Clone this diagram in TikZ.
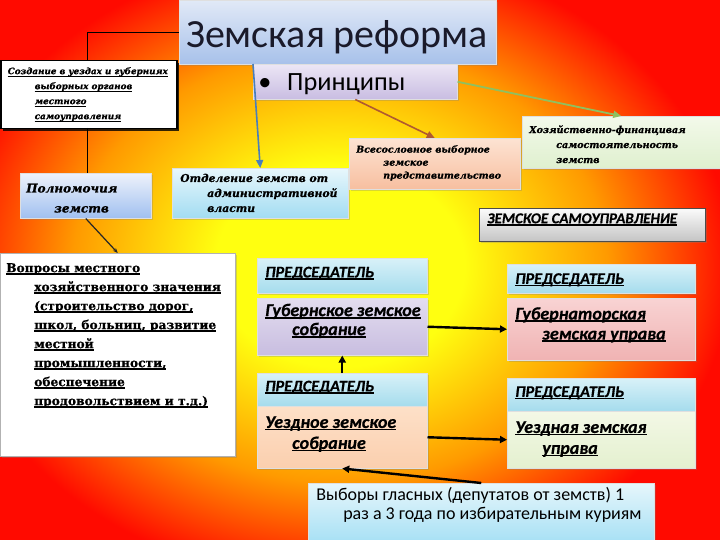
\documentclass[tikz,border=0pt]{standalone}
\usepackage{fontspec}
\setmainfont{Liberation Serif}
\newfontfamily\dvs{DejaVu Serif}
\newfontfamily\dvsbi[FakeBold=1]{DejaVu Serif Bold Italic}
\newfontfamily\dvsb[FakeBold=0.6]{DejaVu Serif Bold}
\newfontfamily\clb{Carlito}
\newfontfamily\clbbi[FakeBold=0.6]{Carlito Bold Italic}
\usetikzlibrary{arrows.meta,shadows}
\definecolor{yellow}{HTML}{FFFF10}
\definecolor{orange}{HTML}{FF9A00}
\definecolor{red}{HTML}{FF0A00}
\definecolor{titT}{HTML}{E1E9F7}\definecolor{titB}{HTML}{A7C1EA}
\definecolor{priT}{HTML}{ECE6F5}\definecolor{priB}{HTML}{C9BDE2}
\definecolor{polT}{HTML}{EEF2FB}\definecolor{polB}{HTML}{A0C0F0}
\definecolor{otdT}{HTML}{E8F7FC}\definecolor{otdB}{HTML}{A2DCF2}
\definecolor{vseT}{HTML}{FDE3D3}\definecolor{vseB}{HTML}{F7BFA0}
\definecolor{hozT}{HTML}{F3F9EA}\definecolor{hozB}{HTML}{DFF0CF}
\definecolor{zsuT}{HTML}{FBFBFB}\definecolor{zsuB}{HTML}{C4C4C4}
\definecolor{preT}{HTML}{D8F1F8}\definecolor{preB}{HTML}{A5DCED}
\definecolor{gubT}{HTML}{E3DDEF}\definecolor{gubB}{HTML}{C8BDE0}
\definecolor{uezT}{HTML}{FDE0C8}\definecolor{uezB}{HTML}{FBCFAE}
\definecolor{guuT}{HTML}{F8D3D3}\definecolor{guuB}{HTML}{F0B3B3}
\definecolor{uzuT}{HTML}{F3F8E6}\definecolor{uzuB}{HTML}{E4F0CF}
\definecolor{vybT}{HTML}{E6F6FB}\definecolor{vybB}{HTML}{A9E1F5}
\definecolor{blueC}{HTML}{4A7EBB}
\definecolor{brownC}{HTML}{B05A30}
\definecolor{greenC}{HTML}{8FC060}
\definecolor{titleTxt}{HTML}{1A1A2A}
\pgfdeclareradialshading{bgrad}{\pgfpoint{0bp}{0bp}}{color(0bp)=(yellow); color(7bp)=(yellow); color(15bp)=(orange); color(22bp)=(red); color(25bp)=(red); color(50bp)=(red)}
\newcommand\bxt[4]{\begin{minipage}[c][#2][t]{#1}\setlength{\lineskiplimit}{-50pt}\vspace*{#3}#4\end{minipage}}
\newcommand\ulx[2][1pt]{\setbox0\hbox{#2}\rlap{\rule[-2.4pt]{\wd0}{#1}}\box0}
\newcommand\sfi[2]{\clbbi\fontsize{#1}{#2}\selectfont}
\newcommand\sri[2]{\dvsbi\fontsize{#1}{#2}\selectfont}
\newcommand\srb[2]{\dvsb\fontsize{#1}{#2}\selectfont}
\begin{document}
\begin{tikzpicture}[x=1pt,y=-1pt,
  box/.style={draw=white!75!gray, line width=0.5pt, inner sep=0pt, anchor=north west,
    drop shadow={shadow xshift=1.5pt, shadow yshift=-1.5pt, opacity=0.3}},
  conn/.style={line width=0.8pt, black},
  tip/.style={-{Triangle[length=7pt,width=7pt]}},
  heavy/.style={line width=2.4pt, black, tip}]
\useasboundingbox (0,0) rectangle (720,540);
\begin{scope}
\clip (0,0) rectangle (720,540);
\fill[red] (0,0) rectangle (720,540);
\shade[shading=bgrad] (340,266) ellipse [x radius=445, y radius=360];
\end{scope}

% ---------- top part
\node[box, top color=titT, bottom color=titB] (title) at (179,0)
  {\bxt{317pt}{64pt}{20pt}{\clb\fontsize{40}{44}\selectfont\color{titleTxt}\hspace*{7pt}Земская реформа}};
\node[box, top color=priT, bottom color=priB] (princ) at (253,64)
  {\bxt{204pt}{35pt}{9.5pt}{\clb\fontsize{26.3}{28}\selectfont\hspace*{5pt}\makebox[29pt][l]{•}Принципы}};
\node[box, fill=white, draw=black, line width=1.5pt,
  drop shadow={shadow xshift=2pt, shadow yshift=-2pt, opacity=0.8, fill=black}] (sozd) at (0,60)
  {\bxt{176pt}{68pt}{6.5pt}{\sri{8.8}{15}%
   \hspace*{7pt}\ulx[0.7pt]{Создание в уездах и губерниях}\\
   \hspace*{34pt}\ulx[0.7pt]{выборных органов}\\
   \hspace*{34pt}\ulx[0.7pt]{местного}\\
   \hspace*{34pt}\ulx[0.7pt]{самоуправления}}};
\node[box, top color=polT, bottom color=polB] (poln) at (20,173)
  {\bxt{131pt}{45pt}{10.5pt}{\sri{12}{20}%
   \hspace*{6pt}Полномочия\\
   \hspace*{34pt}земств}};
\node[box, top color=otdT, bottom color=otdB] (otd) at (172,168)
  {\bxt{176pt}{50pt}{5.5pt}{\sri{10.8}{15}%
   \hspace*{8pt}Отделение земств от\\
   \hspace*{35pt}административной\\
   \hspace*{35pt}власти}};
\node[box, top color=vseT, bottom color=vseB] (vses) at (349,138)
  {\bxt{171pt}{51pt}{7pt}{\sri{9.4}{13}%
   \hspace*{7pt}Всесословное выборное\\
   \hspace*{34pt}земское\\
   \hspace*{34pt}представительство}};
\node[box, top color=hozT, bottom color=hozB] (hoz) at (522,116)
  {\bxt{198pt}{52pt}{9pt}{\sri{9.5}{15}%
   \hspace*{7pt}Хозяйственно-финанцивая\\
   \hspace*{34pt}самостоятельность\\
   \hspace*{34pt}земств}};
\node[box, top color=zsuT, bottom color=zsuB, draw=black!70, line width=0.8pt] (zsu) at (479,208)
  {\bxt{226pt}{33pt}{5pt}{\sfi{15}{18}\hspace*{8pt}\ulx[1.6pt]{ЗЕМСКОЕ САМОУПРАВЛЕНИЕ}}};

% ---------- left lower
\node[box, fill=white, draw=black!30] (vopr) at (0,253)
  {\bxt{235pt}{203pt}{10pt}{\srb{12.2}{19}%
   \hspace*{6pt}\ulx[1.1pt]{Вопросы местного}\\
   \hspace*{34pt}\ulx[1.1pt]{хозяйственного значения}\\
   \hspace*{34pt}\ulx[1.1pt]{(строительство дорог,}\\
   \hspace*{34pt}\ulx[1.1pt]{школ, больниц, развитие}\\
   \hspace*{34pt}\ulx[1.1pt]{местной}\\
   \hspace*{34pt}\ulx[1.1pt]{промышленности,}\\
   \hspace*{34pt}\ulx[1.1pt]{обеспечение}\\
   \hspace*{34pt}\ulx[1.1pt]{продовольствием и т.д.)}}};

% ---------- centre column
\node[box, top color=preT, bottom color=preB] (pred1) at (257,258)
  {\bxt{170pt}{35pt}{8.5pt}{\sfi{16.3}{18}\hspace*{8pt}\ulx[1.6pt]{ПРЕДСЕДАТЕЛЬ}}};
\node[box, top color=gubT, bottom color=gubB] (gub) at (257,298)
  {\bxt{170pt}{57pt}{5.5pt}{\sfi{18}{19}%
   \hspace*{8pt}\ulx[1.6pt]{Губернское земское}\\
   \hspace*{35pt}\ulx[1.6pt]{собрание}}};
\node[box, top color=preT, bottom color=preB] (pred2) at (257,373)
  {\bxt{170pt}{33pt}{7.5pt}{\sfi{16.3}{18}\hspace*{8pt}\ulx[1.6pt]{ПРЕДСЕДАТЕЛЬ}}};
\node[box, top color=uezT, bottom color=uezB] (uezd) at (257,406)
  {\bxt{170pt}{62pt}{10pt}{\sfi{18}{21}%
   \hspace*{8pt}\ulx[1.6pt]{Уездное земское}\\
   \hspace*{35pt}\ulx[1.6pt]{собрание}}};

% ---------- right column
\node[box, top color=preT, bottom color=preB] (pred3) at (507,264)
  {\bxt{188pt}{29pt}{9pt}{\sfi{16.3}{18}\hspace*{8pt}\ulx[1.6pt]{ПРЕДСЕДАТЕЛЬ}}};
\node[box, top color=guuT, bottom color=guuB] (gubupr) at (507,298)
  {\bxt{188pt}{62pt}{9pt}{\sfi{18}{20}%
   \hspace*{8pt}\ulx[1.6pt]{Губернаторская}\\
   \hspace*{35pt}\ulx[1.6pt]{земская управа}}};
\node[box, top color=preT, bottom color=preB] (pred4) at (507,378)
  {\bxt{188pt}{33pt}{8pt}{\sfi{16.3}{18}\hspace*{8pt}\ulx[1.6pt]{ПРЕДСЕДАТЕЛЬ}}};
\node[box, top color=uzuT, bottom color=uzuB] (uezdupr) at (507,411)
  {\bxt{188pt}{57pt}{10pt}{\sfi{18}{21}%
   \hspace*{8pt}\ulx[1.6pt]{Уездная земская}\\
   \hspace*{35pt}\ulx[1.6pt]{управа}}};

% ---------- bottom
\node[box, top color=vybT, bottom color=vybB] (vyb) at (308,483)
  {\bxt{346pt}{57pt}{4.5pt}{\clb\fontsize{18}{19}\selectfont
   \hspace*{8pt}Выборы гласных (депутатов от земств) 1\\
   \hspace*{35pt}раз а 3 года по избирательным куриям}};

% ---------- connectors
\draw[conn] (title.west) -| (87,60);
\draw[conn] (87,128) -- (poln.north -| 87,0);
\draw[line width=1.2pt, black!85, -{Stealth[length=5pt,width=4pt]}] (poln.south) -- (vopr.north);
\draw[line width=1.6pt, blueC, -{Triangle[length=8pt,width=7pt]}] (princ.north west) -- (otd.north);
\draw[line width=1.6pt, brownC, -{Triangle[length=8pt,width=7pt]}] (princ.south) -- (vses.north);
\draw[line width=1.8pt, greenC, -{Triangle[length=8pt,width=7pt]}] (princ.east) -- (hoz.north);
\draw[heavy] (gub.east) -- (gubupr.west);
\draw[heavy] (uezd.east) -- (uezdupr.west);
\draw[heavy] (pred2.north) -- (gub.south);
\draw[heavy] (vyb.north) -- (uezd.south);
\end{tikzpicture}
\end{document}
